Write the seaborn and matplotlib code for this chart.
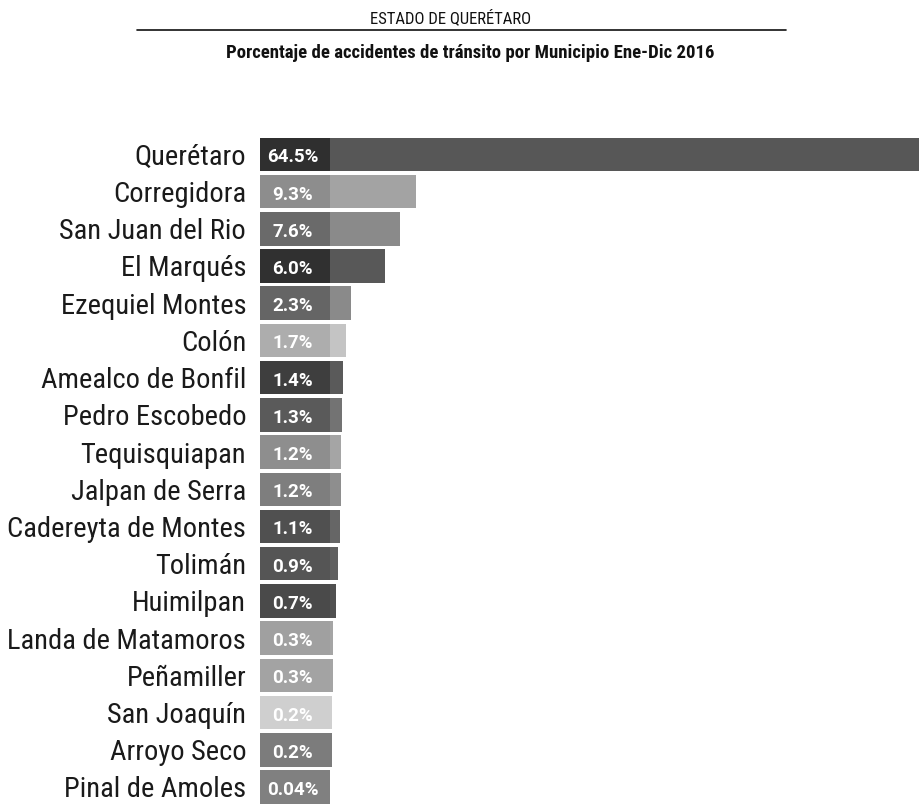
import matplotlib
matplotlib.use("Agg")
import matplotlib.pyplot as plt
import pandas as pd
import seaborn as sns

municipios = [
    "Querétaro", "Corregidora", "San Juan del Rio", "El Marqués",
    "Ezequiel Montes", "Colón", "Amealco de Bonfil", "Pedro Escobedo",
    "Tequisquiapan", "Jalpan de Serra", "Cadereyta de Montes", "Tolimán",
    "Huimilpan", "Landa de Matamoros", "Peñamiller", "San Joaquín",
    "Arroyo Seco", "Pinal de Amoles",
]
porcentajes = [64.5, 9.3, 7.6, 6.0, 2.3, 1.7, 1.4, 1.3, 1.2, 1.2, 1.1,
               0.9, 0.7, 0.3, 0.3, 0.2, 0.2, 0.04]
etiquetas = ["64.5%", "9.3%", "7.6%", "6.0%", "2.3%", "1.7%", "1.4%", "1.3%",
             "1.2%", "1.2%", "1.1%", "0.9%", "0.7%", "0.3%", "0.3%", "0.2%",
             "0.2%", "0.04%"]
color_barra = ["#575757", "#a3a3a3", "#8a8a8a", "#585858", "#8a8a8a", "#c4c4c4",
               "#5a5a5a", "#737373", "#a5a5a5", "#8e8e8e", "#666666", "#606060",
               "#505050", "#a5a5a5", "#a5a5a5", "#d0d0d0", "#7c7c7c", "#808080"]
color_caja = ["#2f2f2f", "#8d8d8d", "#6a6a6a", "#303030", "#656565", "#adadad",
              "#3e3e3e", "#5a5a5a", "#8e8e8e", "#7e7e7e", "#505050", "#555555",
              "#4a4a4a", "#a0a0a0", "#a3a3a3", "#cfcfcf", "#7c7c7c", "#808080"]

CAJA = 7.6  # ancho de la caja de la etiqueta, en % del eje

sns.set_theme(style="white")
fuente = ["Roboto Condensed", "Liberation Sans Narrow", "Lato", "DejaVu Sans"]
plt.rcParams["font.family"] = fuente

df = pd.DataFrame({"municipio": municipios, "pct": porcentajes})

fig = plt.figure(figsize=(9.19, 8.08), dpi=100)
ax = fig.add_axes([0.283, 0.003, 0.717, 0.829])

sns.barplot(data=df, y="municipio", x="pct", hue="municipio",
            palette=color_barra, orient="h", width=0.9, legend=False,
            saturation=1, linewidth=0, ax=ax)
ax.barh(range(len(municipios)), [CAJA] * len(municipios), left=-CAJA,
        height=0.9, color=color_caja, linewidth=0)

for i, txt in enumerate(etiquetas):
    ax.text(-CAJA / 2 - 0.25, i + 0.08, txt, color="white", fontsize=13.5,
            fontweight="bold", family=["Roboto", "DejaVu Sans"],
            va="center", ha="center")

ax.set_xlim(-CAJA, 64.0)
ax.set_ylim(len(municipios) - 0.5, -0.5)
ax.set_xlabel("")
ax.set_ylabel("")
ax.set_xticks([])
ax.tick_params(axis="y", length=0, pad=10, labelsize=20.5, labelcolor="#1a1a1a")
sns.despine(ax=ax, left=True, bottom=True)

fig.text(0.49, 0.978, "ESTADO DE QUERÉTARO", ha="center", va="center",
         fontsize=12, color="#111111")
fig.add_artist(plt.Line2D([0.149, 0.855], [0.963, 0.963], color="#111111",
                          lw=1.2, transform=fig.transFigure))
fig.text(0.512, 0.935, "Porcentaje de accidentes de tránsito por Municipio Ene-Dic 2016",
         ha="center", va="center", fontsize=13.5, fontweight="bold",
         color="#111111")

fig.savefig("out.png", dpi=100)
